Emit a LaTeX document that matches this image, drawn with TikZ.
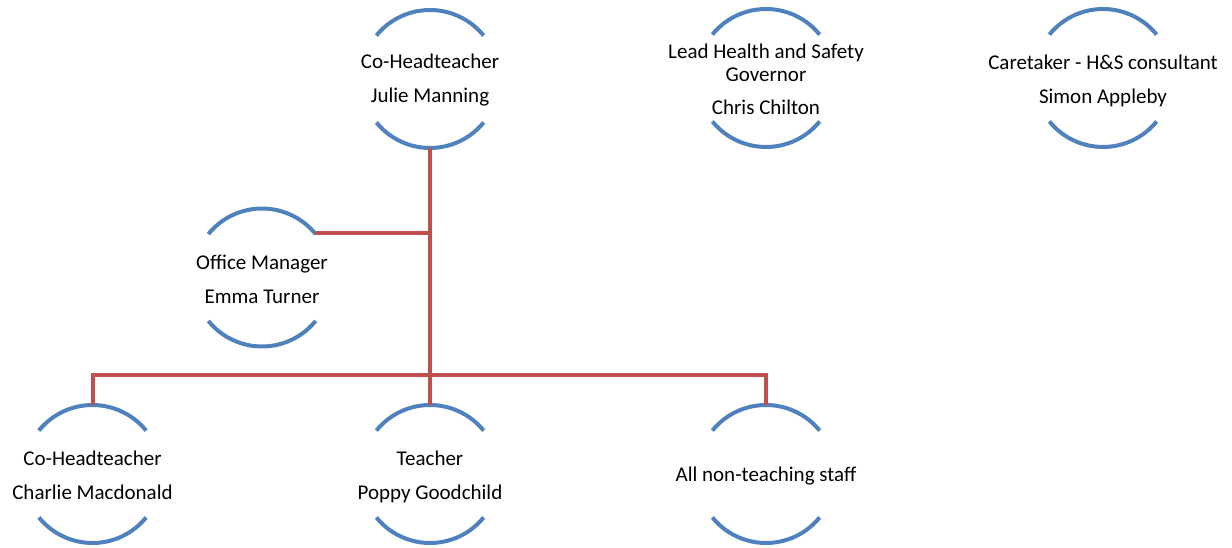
\documentclass[tikz,border=0pt]{standalone}
\usepackage{fontspec}
\setmainfont{Carlito}
\definecolor{arcblue}{HTML}{4F81BD}
\definecolor{linkred}{HTML}{C0504D}
\tikzset{
  person/.style={circle,minimum size=138pt,inner sep=0pt,draw=none},
  persontext/.style={align=center,inner sep=0pt,yshift=-1.5pt,font=\fontsize{21}{23}\selectfont},
  arcline/.style={draw=arcblue,line width=4pt},
  link/.style={draw=linkred,line width=4pt}
}
\begin{document}
\begin{tikzpicture}[x=1pt,y=1pt]
\useasboundingbox (0,0) rectangle (1232,-548);
% person frames
\node[person] (julie) at (430,-79) {};
\node[person] (chris) at (766,-78) {};
\node[person] (simon) at (1103,-78) {};
\node[person] (emma) at (262,-277.5) {};
\node[person] (charlie) at (92.5,-474) {};
\node[person] (poppy) at (430,-474) {};
\node[person] (staff) at (766,-474) {};
% arcs
\foreach \n in {julie,chris,simon,emma,charlie,poppy,staff}{
  \draw[arcline] ([shift={(39:69)}]\n.center) arc (39:141:69);
  \draw[arcline] ([shift={(-141:69)}]\n.center) arc (-141:-39:69);
}
% texts
\node[persontext] (julieT) at (430,-79) {Co-Headteacher\\[11pt]Julie Manning};
\node[persontext] (chrisT) at (766,-78) {Lead Health and Safety\\Governor\\[10pt]Chris Chilton};
\node[persontext] (simonT) at (1103,-79) {Caretaker - H\&S consultant\\[11pt]Simon Appleby};
\node[persontext] (emmaT) at (262,-277.5) {Office Manager\\[11pt]Emma Turner};
\node[persontext] (charlieT) at (92.5,-474) {Co-Headteacher\\[11pt]Charlie Macdonald};
\node[persontext] (poppyT) at (430,-475) {Teacher\\[11pt]Poppy Goodchild};
\node[persontext] (staffT) at (766,-475) {All non-teaching staff};
% connectors
\coordinate (bus) at (430,-375);
\draw[link] (julie.south) -- (poppy.north);
\draw[link] (emma.40) -- (emma.40 -| julie.south);
\draw[link] (charlie.north) |- (bus) -| (staff.north);
\end{tikzpicture}
\end{document}
